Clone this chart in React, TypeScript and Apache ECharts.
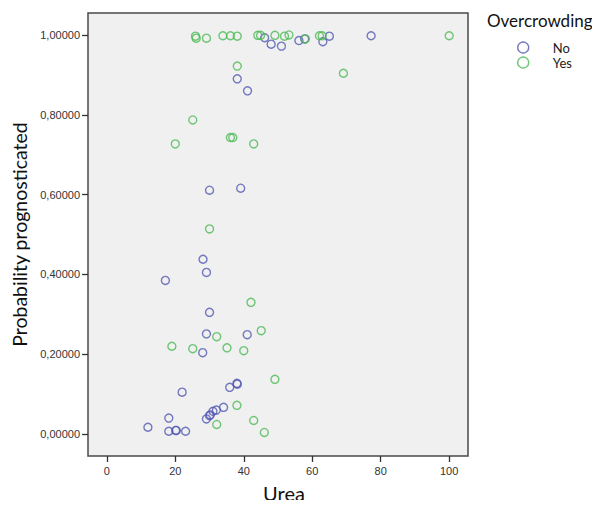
import React, { useEffect, useRef } from "react";
import * as echarts from "echarts";

const seriesNames = ["No", "Yes"];
const seriesColors = ["#5259b3", "#4cba55"];

// [Urea, Probability] for Overcrowding = No
const noPoints: number[][] = [
  [46.1, 0.993], [48.0, 0.977], [51.0, 0.972], [56.1, 0.986], [57.8, 0.99],
  [63.1, 0.983], [65.0, 0.997], [77.2, 0.998],
  [38.1, 0.89], [41.1, 0.86], [30.0, 0.611], [39.1, 0.616],
  [28.1, 0.438], [29.1, 0.405], [17.1, 0.385], [30.0, 0.305],
  [29.1, 0.251], [41.0, 0.249], [28.0, 0.204],
  [22.0, 0.105], [35.9, 0.117], [38.0, 0.127], [38.1, 0.125],
  [34.1, 0.067], [32.0, 0.06], [31.0, 0.057], [30.0, 0.046], [30.2, 0.048],
  [29.1, 0.038], [18.1, 0.04], [12.0, 0.017], [18.1, 0.007],
  [20.1, 0.009], [20.3, 0.009], [23.0, 0.007],
];

// [Urea, Probability] for Overcrowding = Yes
const yesPoints: number[][] = [
  [25.9, 0.997], [26.1, 0.992], [29.1, 0.992], [33.9, 0.998], [36.1, 0.998],
  [38.1, 0.997], [44.1, 0.999], [44.9, 0.999], [49.1, 0.999], [51.9, 0.997],
  [53.2, 1.0], [58.0, 0.99], [62.1, 0.998], [62.9, 0.998], [100, 0.998],
  [69.1, 0.904], [38.1, 0.922],
  [25.1, 0.787], [36.1, 0.743], [36.8, 0.743], [20.0, 0.727], [42.9, 0.727],
  [30.0, 0.514], [42.1, 0.33], [45.1, 0.259], [32.1, 0.244], [19.0, 0.22],
  [25.1, 0.214], [35.1, 0.216], [40.0, 0.209],
  [49.1, 0.137], [38.0, 0.072], [42.9, 0.034], [32.1, 0.024], [46.0, 0.004],
];

const xTicks = [0, 20, 40, 60, 80, 100];
const yTicks = [0, 0.2, 0.4, 0.6, 0.8, 1.0];

const xTitle = "Urea";
const yTitle = "Probability prognosticated";
const legendTitle = "Overcrowding";

export default function App() {
  const ref = useRef<HTMLDivElement>(null);
  useEffect(() => {
    if (!ref.current) return;
    const chart = echarts.init(ref.current, undefined, { renderer: "svg" });
    const allData = [noPoints, yesPoints];
    chart.setOption({
      animation: false,
      backgroundColor: "#ffffff",
      textStyle: { fontFamily: "Liberation Sans" },
      grid: {
        left: 88,
        right: 132,
        top: 13,
        bottom: 49,
        show: true,
        backgroundColor: "#f0f0f0",
        borderColor: "#4a4a4a",
        borderWidth: 1.5,
      },
      xAxis: {
        type: "value",
        min: -5.5,
        max: 105.5,
        splitLine: { show: false },
        axisLine: { show: false, onZero: false },
        axisTick: { show: true, inside: false, length: 6, customValues: xTicks, lineStyle: { color: "#333", width: 1.3 } },
        axisLabel: {
          customValues: xTicks,
          margin: 9,
          color: "#333",
          fontSize: 11,
          fontFamily: "Liberation Sans",
        },
        name: xTitle,
        nameLocation: "middle",
        nameGap: 27,
        nameTextStyle: { fontSize: 20, color: "#111", fontFamily: "Lato", padding: [0, 0, 0, 12] },
      },
      yAxis: {
        type: "value",
        min: -0.055,
        max: 1.055,
        splitLine: { show: false },
        axisLine: { show: false, onZero: false },
        axisTick: { show: true, inside: false, length: 6, customValues: yTicks, lineStyle: { color: "#333", width: 1.3 } },
        axisLabel: {
          customValues: yTicks,
          margin: 8,
          color: "#333",
          fontSize: 11,
          fontFamily: "Liberation Sans",
          formatter: (v: number) => v.toFixed(5).replace(".", ","),
        },
        name: yTitle,
        nameLocation: "middle",
        nameGap: 56,
        nameRotate: 90,
        nameTextStyle: { fontSize: 19.5, color: "#111", fontFamily: "Lato" },
      },
      legend: {
        left: 517,
        top: 41,
        padding: 0,
        orient: "vertical",
        itemWidth: 11,
        itemHeight: 11,
        itemGap: 2,
        textStyle: { fontSize: 13, color: "#222", fontFamily: "Lato", padding: [0, 0, 0, 19] },
        data: seriesNames.map((n, i) => ({
          name: n,
          icon: "circle",
          itemStyle: { color: "transparent", borderColor: seriesColors[i], borderWidth: 1.4 },
        })),
      },
      graphic: [
        {
          type: "text",
          left: 487,
          top: 12,
          style: { text: legendTitle, fontSize: 17, fill: "#111", fontFamily: "Lato" },
        },
      ],
      series: seriesNames.map((n, i) => ({
        name: n,
        type: "scatter",
        symbol: "circle",
        symbolSize: 8,
        data: allData[i],
        itemStyle: { color: "transparent", borderColor: seriesColors[i], borderWidth: 1.4 },
        emphasis: { disabled: true },
      })),
    });
    return () => chart.dispose();
  }, []);
  return <div ref={ref} style={{ width: 600, height: 508, margin: -8 }} />;
}
